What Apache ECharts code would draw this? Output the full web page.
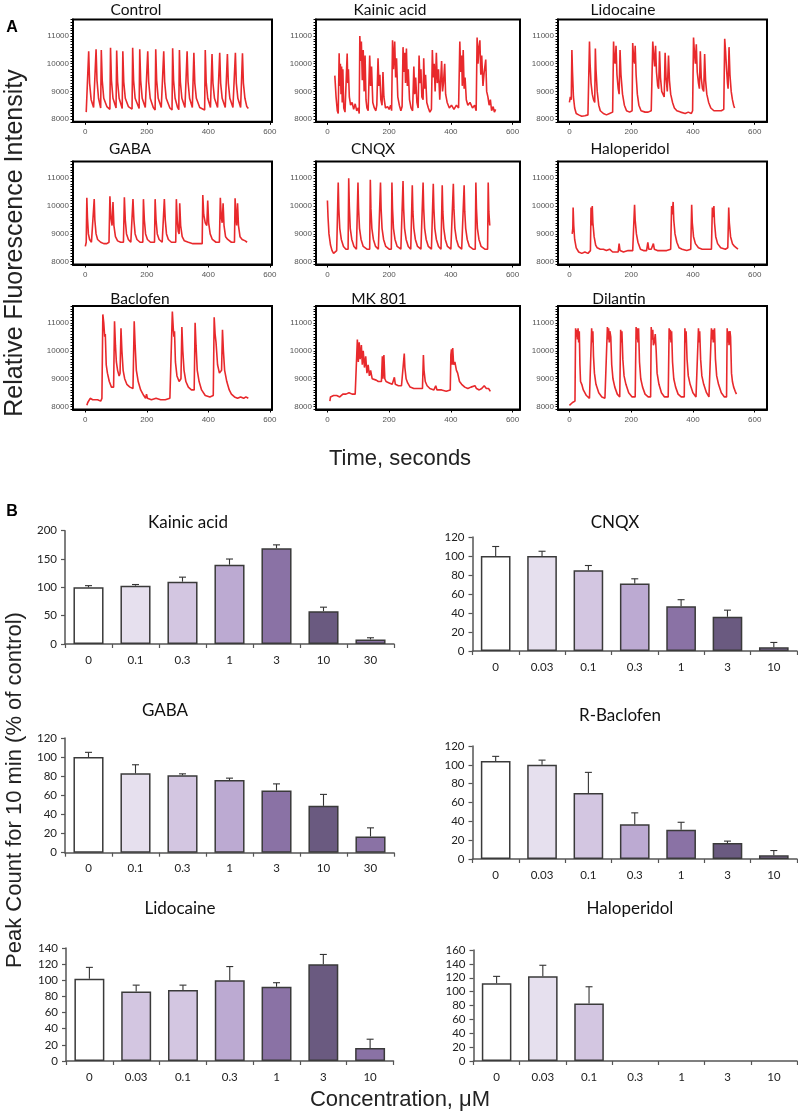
<!DOCTYPE html>
<html><head><meta charset="utf-8">
<script src="https://cdn.jsdelivr.net/npm/echarts@6/dist/echarts.min.js"></script>
<style>html,body{margin:0;padding:0;background:#fff}#c{width:798px;height:1118px}</style>
</head><body><div id="c"></div><script>
// ---------- Panel A: fluorescence traces ----------
const traceTimeTicks = [0, 200, 400, 600];
const traceIntensityTicks = [8000, 9000, 10000, 11000];
const traceTitles = ['Control','Kainic acid','Lidocaine','GABA','CNQX','Haloperidol','Baclofen','MK 801','Dilantin'];

const controlTrace = [[3,8250],[8,8300],[11,10450],[14,9300],[19,8700],[27,8420],[33,8380],
[35,10520],[38,9400],[43,8750],[50,8400],[52,10500],[55,9400],[60,8750],[70,8450],[80,8350],
[82,10580],[85,9400],[90,8750],[100,8400],[102,10480],[105,9350],[110,8750],[120,8380],
[122,10450],[125,9350],[130,8750],[140,8450],[152,8360],[154,10580],[157,9400],[162,8750],[175,8380],
[177,10520],[180,9400],[185,8750],[195,8420],[201,8350],[203,10450],[206,9350],[211,8750],[221,8420],[227,8330],
[229,10520],[232,9400],[237,8750],[247,8420],[253,8350],[255,10450],[258,9350],[263,8750],[275,8400],[282,8330],
[284,10560],[287,9400],[292,8750],[300,8420],[304,8340],[306,10500],[309,9350],[314,8750],[324,8420],[329,8360],
[331,10450],[334,9350],[339,8750],[348,8420],[351,8350],[353,10400],[356,9300],[361,8750],[372,8420],[388,8330],
[390,10500],[393,9350],[398,8750],[407,8420],[410,8360],[412,10350],[415,9300],[420,8750],[430,8420],[435,8360],
[437,10400],[440,9300],[445,8750],[455,8420],[460,8350],[462,10350],[465,9300],[470,8750],[480,8420],[486,8360],
[488,10400],[491,9300],[496,8750],[505,8420],[509,8360],[511,10380],[514,9300],[519,8750],[525,8450],[530,8380]];

const kainicTrace = [[24,9570],[28,8800],[32,8300],[35,8200],
[38,10380],[40,9200],[42,10000],[44,8900],[46,9900],[48,8600],[50,9800],[53,8400],[57,8250],[62,8300],
[64,10370],[66,9300],[68,9800],[71,8800],[75,8500],[80,8600],[85,8350],[90,8550],[95,8300],[100,8400],[103,8200],
[105,11000],[108,10100],[110,10800],[113,9400],[116,10500],[119,9000],[122,10300],[125,8700],[128,8400],[132,8300],
[137,10300],[140,9200],[143,9900],[147,8600],[152,8400],[157,8300],[160,8500],
[164,10200],[167,9200],[170,9600],[173,8700],[177,8500],[180,9700],[183,8800],[188,8400],[195,8450],[200,8350],[205,8500],[208,8300],
[211,10850],[214,9800],[218,10800],[221,9500],[224,10200],[228,8800],[233,8500],[238,8300],[242,8450],
[245,10600],[248,9700],[251,10400],[253,9300],[256,10550],[259,9200],[262,9800],[266,8700],[271,8400],[276,8300],
[280,9900],[283,8900],[286,9500],[290,8600],[294,8400],[297,10300],[300,9300],[303,9800],[306,8800],[310,8700],
[312,10200],[315,9100],[318,9600],[322,8600],[327,8400],[332,8250],[337,8350],
[340,10500],[343,9500],[346,10000],[349,9000],[353,10400],[356,9300],[360,9800],[364,8700],
[370,10100],[373,9000],[376,9300],[380,10000],[383,8900],[388,8600],[395,8400],[402,8500],[410,8350],[418,8500],[425,8400],
[429,10800],[432,9700],[435,10300],[437,9200],[440,10500],[443,9100],[446,9500],[450,8700],[455,8500],[462,8600],[470,8400],[477,8500],[482,8300],
[485,10950],[488,10000],[491,10600],[494,10850],[497,9600],[500,10300],[504,9200],[508,9700],
[513,10150],[516,9000],[520,8800],[524,8500],[528,8700],[532,8300],[537,8450],[541,8250],[545,8350]];

const lidocaineTrace = [[0,8600],[3,8800],[6,8700],[8,10500],[10,9700],[13,8800],[17,8400],[22,8200],[30,8150],[40,8100],[50,8120],[60,8150],[63,8200],
[65,10800],[67,10000],[70,9300],[74,8900],[78,8700],[82,8600],[84,10550],[86,9800],[90,9000],[95,8500],[100,8300],[110,8200],[120,8150],[130,8200],[140,8250],
[143,10800],[145,10200],[148,10000],[151,10650],[154,9600],[158,9100],[161,8900],[164,10500],[167,9600],[172,8900],[178,8500],[185,8300],[195,8250],[203,8300],
[205,10750],[208,10200],[211,10000],[213,10650],[216,9600],[220,8900],[225,8500],[232,8300],[245,8250],[255,8250],[265,8300],[268,8350],
[270,10800],[273,10300],[276,9900],[279,10650],[282,9700],[286,9200],[289,9100],[292,10450],[295,9500],[299,9000],[303,9000],[307,8800],[310,10400],[313,9500],[317,9000],[321,10300],[324,9400],[328,8900],[334,8600],[340,8400],[348,8300],[360,8250],[375,8200],[385,8250],[395,8200],[399,8300],
[402,10950],[405,10400],[408,10000],[411,10700],[414,9700],[418,9300],[421,9100],[424,10450],[427,9500],[431,9100],[435,9000],[438,10350],[441,9400],[445,8900],[451,8600],[458,8400],[468,8300],[480,8300],[492,8300],[500,8350],
[503,10900],[506,10400],[509,9800],[512,9300],[514,9100],[517,10600],[520,9600],[524,9000],[528,8700],[532,8500],[535,8400]];

const gabaTrace = [[0,8550],[3,8700],[5,10300],[7,9600],[10,9000],[14,8800],[20,8700],[26,8700],
[29,10250],[31,9500],[35,9000],[40,8800],[50,8700],[60,8650],[70,8650],[77,8700],
[80,10350],[83,9600],[87,9300],[90,10150],[93,9300],[98,8900],[105,8750],[115,8700],[124,8700],
[127,10320],[130,9500],[134,9000],[140,8800],[148,8700],[153,8700],[155,10250],[158,9500],[162,9000],[168,8800],[178,8700],[187,8700],
[189,10250],[192,9500],[196,9000],[202,8800],[212,8700],[225,8700],[227,10250],[230,9500],[234,9000],[240,8800],[250,8700],[255,8700],
[257,10250],[260,9500],[264,9000],[270,8800],[280,8700],[294,8700],
[296,10250],[299,9500],[302,9100],[305,9000],[307,10100],[310,9300],[315,8900],[322,8750],[335,8700],[350,8650],[365,8650],[380,8650],
[382,10400],[385,9700],[390,9400],[395,9300],[398,10200],[401,9400],[406,9000],[413,8800],[425,8700],[436,8700],
[439,10300],[442,9600],[445,9400],[448,10100],[451,9300],[456,8900],[463,8800],[475,8700],[485,8700],
[487,10280],[490,9600],[492,9300],[495,10100],[498,9300],[503,8900],[510,8800],[520,8750],[526,8700]];

const cnqxTrace = [[0,10200],[2,9600],[5,9000],[10,8600],[15,8400],[20,8300],[25,8350],[30,8400],[33,8450],
[35,10850],[37,9900],[40,9200],[45,8800],[52,8550],[60,8450],[67,8450],
[69,11000],[71,10000],[74,9200],[79,8800],[86,8550],[94,8450],[97,8450],
[99,10850],[101,9900],[104,9200],[109,8800],[116,8550],[128,8450],[137,8450],
[139,10950],[141,9900],[144,9200],[149,8800],[156,8550],[165,8450],[170,8450],
[172,10850],[174,9900],[177,9200],[182,8800],[189,8550],[200,8450],[207,8450],
[209,10850],[211,9900],[214,9200],[219,8800],[226,8550],[238,8450],[243,8450],
[245,10900],[247,9900],[250,9200],[255,8800],[262,8550],[270,8450],[273,8450],
[275,10750],[277,9800],[280,9200],[285,8800],[292,8550],[303,8450],[308,8450],
[310,10850],[312,9900],[315,9200],[320,8800],[327,8550],[337,8450],[341,8450],
[343,10800],[345,9900],[348,9200],[353,8800],[360,8550],[368,8450],[370,8450],
[372,10750],[374,9800],[377,9200],[382,8800],[389,8550],[400,8450],[406,8450],
[408,10800],[410,9900],[413,9200],[418,8800],[425,8550],[435,8450],[441,8450],
[443,10750],[445,9800],[448,9200],[453,8800],[460,8550],[472,8450],[479,8450],
[481,10850],[483,9900],[486,9200],[491,8800],[498,8550],[510,8450],[519,8450],
[521,10850],[523,9800],[526,9300]];

const haloperidolTrace = [[9,9000],[11,9200],[12,9950],[14,9300],[17,8800],[22,8500],[30,8350],[40,8300],[50,8350],[60,8300],[68,8400],
[70,9950],[72,9300],[74,10000],[76,9400],[80,8900],[85,8600],[90,8500],[95,8550],[100,8450],[110,8450],[120,8400],[130,8450],[140,8350],[150,8350],[158,8350],
[161,8650],[164,8400],[175,8350],[190,8400],[205,8400],[209,8450],
[211,10050],[213,9500],[217,9000],[222,8700],[230,8450],[240,8400],[250,8400],
[254,8700],[257,8450],[265,8450],[269,8500],[272,8650],[275,8450],[285,8400],[300,8400],[315,8400],[328,8450],
[331,10000],[333,9700],[336,10150],[338,9500],[342,9000],[348,8700],[355,8500],[365,8450],[380,8400],[393,8450],
[396,10050],[398,9400],[402,8900],[408,8650],[418,8500],[430,8450],[445,8450],[460,8450],
[463,9950],[465,9600],[468,10000],[470,9400],[474,8900],[480,8650],[490,8500],[505,8450],[513,8500],
[516,9950],[518,9400],[522,8900],[528,8650],[535,8550],[540,8500],[546,8450]];

const baclofenTrace = [[5,8050],[8,8150],[12,8200],[16,8300],[21,8350],[24,8250],[30,8200],[40,8250],[50,8200],[54,8300],
[57,11300],[60,11000],[63,10500],[65,10600],[68,9500],[72,9200],[78,8900],[85,8700],[92,8700],
[95,11050],[98,10200],[101,9600],[105,9300],[110,9100],[113,9200],[116,10800],[119,10000],[123,9300],[128,9000],[135,8800],[145,8700],[155,8650],
[159,11050],[162,10200],[166,9300],[172,8900],[180,8600],[190,8400],[196,8300],[199,8450],[202,8300],[215,8250],[230,8300],[245,8250],[260,8250],[275,8300],
[283,11400],[286,10800],[288,10500],[290,10700],[293,9600],[298,9100],[305,8900],[311,9000],
[314,10850],[317,10000],[321,9300],[327,8900],[335,8700],[345,8600],[354,8600],
[357,11000],[360,10200],[364,9300],[370,8900],[378,8600],[390,8400],[405,8350],[416,8400],
[419,11200],[422,10600],[425,10300],[430,9500],[436,9200],[443,9300],
[446,10750],[449,10000],[453,9300],[460,8900],[468,8600],[475,8450],[480,8500],[485,8350],[495,8300],[505,8350],[515,8300],[522,8350],[530,8300]];

const mk801Trace = [[8,8200],[10,8350],[14,8300],[20,8400],[30,8400],[40,8350],[50,8450],[60,8450],[70,8500],[80,8450],[90,8450],[95,8500],
[97,10400],[100,9600],[103,10300],[106,9700],[110,10200],[113,9500],[116,10000],[120,9400],[124,9800],[128,9200],[132,9500],[136,9100],[140,9300],[145,9000],[150,9050],[158,8950],[165,8900],[175,8900],
[178,9800],[180,9000],[183,9850],[186,9000],[190,8900],[200,8850],[210,8800],[214,8850],[217,9050],[220,8800],[230,8750],[240,8750],[246,8750],
[249,9900],[251,9400],[255,9000],[260,8850],[268,8700],[280,8650],[295,8650],[308,8650],
[311,9850],[313,9300],[317,8900],[323,8750],[332,8650],[345,8600],[351,8750],[355,8600],[370,8600],[385,8550],[398,8600],
[400,9850],[402,10050],[404,9500],[406,10100],[409,9500],[413,9600],[418,9300],[422,9200],[428,8900],[435,8800],[445,8700],[455,8650],[465,8700],[470,8650],[478,8750],[483,8650],[492,8600],[500,8650],[508,8750],[515,8650],[522,8650],[528,8550]];

const dilantinTrace = [[0,8050],[5,8100],[10,8150],[15,8100],[18,8200],
[20,10800],[22,10500],[24,10750],[26,10400],[28,10800],[30,10300],[32,10700],[34,9500],[36,8900],[40,8800],[45,8600],[55,8400],[65,8300],[70,8350],
[72,10800],[74,10300],[76,10700],[78,9800],[81,9200],[86,8800],[95,8500],[105,8350],[115,8300],[121,8350],
[123,10850],[125,10400],[127,10800],[129,10300],[131,10700],[134,10500],[137,9500],[141,9000],[147,8700],[155,8450],[163,8350],
[166,10750],[168,10300],[170,10700],[173,9700],[177,9100],[183,8800],[192,8500],[203,8350],[213,8350],
[216,10850],[218,10400],[220,10800],[222,10300],[224,10800],[227,9600],[231,9000],[237,8700],[245,8450],[255,8350],[263,8350],
[265,10850],[267,10400],[270,10750],[272,10200],[275,10300],[278,10600],[281,10000],[284,9200],[290,8800],[298,8500],[308,8350],[320,8350],
[323,10800],[325,10400],[327,10750],[329,10300],[331,10700],[334,9600],[338,9000],[344,8700],[352,8450],[362,8350],[372,8350],
[374,10800],[376,10300],[378,10700],[381,9700],[385,9100],[391,8800],[400,8500],[410,8350],[416,8350],
[418,10800],[420,10300],[422,10700],[425,9700],[429,9100],[435,8800],[444,8500],[452,8350],[458,8350],
[460,10800],[462,10400],[464,10750],[466,10300],[468,10600],[470,10800],[473,9700],[477,9100],[483,8800],[492,8500],[502,8350],[509,8350],
[511,10800],[513,10300],[515,10700],[517,10200],[520,10700],[522,10500],[525,9200],[528,8900],[532,8700],[537,8550],[541,8450]];

const traces = [controlTrace, kainicTrace, lidocaineTrace, gabaTrace, cnqxTrace, haloperidolTrace, baclofenTrace, mk801Trace, dilantinTrace];

// ---------- Panel B: peak counts (% of control) ----------
const kainicDoses = ['0','0.1','0.3','1','3','10','30'];
const kainicMeans = [100, 103, 110, 140, 169, 58, 8];
const kainicErrs  = [3, 2, 8, 10, 6, 7, 3];
const cnqxDoses = ['0','0.03','0.1','0.3','1','3','10'];
const cnqxMeans = [100, 100, 85, 71, 47, 36, 4];
const cnqxErrs  = [10, 5, 5, 5, 7, 7, 5];
const gabaDoses = ['0','0.1','0.3','1','3','10','30'];
const gabaMeans = [100, 83, 81, 76, 65, 49, 17];
const gabaErrs  = [5, 9, 1.5, 2, 7, 12, 9];
const baclofenDoses = ['0','0.03','0.1','0.3','1','3','10'];
const baclofenMeans = [104, 100, 70, 37, 31, 17, 4];
const baclofenErrs  = [5, 5, 22, 12, 8, 2, 5];
const lidocaineDoses = ['0','0.03','0.1','0.3','1','3','10'];
const lidocaineMeans = [102, 86, 88, 100, 92, 120, 16];
const lidocaineErrs  = [14, 8, 6, 17, 5, 12, 11];
const haloDoses = ['0','0.03','0.1','0.3','1','3','10'];
const haloMeans = [112, 122, 83, 0, 0, 0, 0];
const haloErrs  = [10, 16, 24, 0, 0, 0, 0];

// styles (kept separate from data)
const shade = ['#ffffff', '#e6e0ee', '#d3c6e1', '#bcaad2', '#8a72a5', '#6a5a80'];
const kainicColors = [0,1,2,3,4,5,4];
const sevenColors = [0,1,2,3,4,5,4];
const lidoColors = [0,2,2,3,4,5,4];

const chart = echarts.init(document.getElementById('c'), null, {renderer: 'canvas'});

const grids = [], xAxes = [], yAxes = [], series = [], graphics = [];
const cols = [{left:73, right:272, min:-40, max:607}, {left:316, right:520, min:-37, max:624}, {left:558, right:767, min:-37, max:640}];
const rows = [{top:19.5, height:102.3}, {top:161.6, height:102.9}, {top:306, height:103.5}];
const titleCenters = [[136,10],[390,10],[623,10],[130,149],[373,149],[630,149],[140,299],[379,299],[619,299]];
const plain = v => String(v);

traces.forEach((tr, i) => {
  const c = cols[i % 3], r = rows[Math.floor(i / 3)];
  const gi = grids.length;
  grids.push({left: c.left, top: r.top, width: c.right - c.left, height: r.height,
    show: true, borderColor: '#000', borderWidth: 2, backgroundColor: 'transparent'});
  xAxes.push({type: 'value', gridIndex: gi, min: c.min, max: c.max,
    axisLine: {show: true, onZero: false, lineStyle: {color: '#000', width: 2}},
    axisTick: {show: true, length: 3, customValues: traceTimeTicks, lineStyle: {color: '#000'}},
    axisLabel: {customValues: traceTimeTicks, formatter: plain, fontSize: 8, color: '#555', margin: 6, fontFamily: 'Liberation Sans'},
    splitLine: {show: false}});
  yAxes.push({type: 'value', gridIndex: gi, min: 7900, max: 11600, interval: 100,
    axisLine: {show: true, onZero: false, lineStyle: {color: '#000', width: 2}},
    axisTick: {show: true, length: 2.5, lineStyle: {color: '#000', width: 1}},
    axisLabel: {customValues: traceIntensityTicks, formatter: plain, fontSize: 8, color: '#555', margin: 4, fontFamily: 'Liberation Sans'},
    splitLine: {show: false}});
  series.push({type: 'line', xAxisIndex: gi, yAxisIndex: gi, data: tr, showSymbol: false, symbol: 'none',
    lineStyle: {color: '#e8292c', width: 1.6}, animation: false});
  graphics.push({type: 'text', x: titleCenters[i][0], y: titleCenters[i][1],
    style: {text: traceTitles[i], fill: '#111', font: '15.5px Lato', textAlign: 'center', textVerticalAlign: 'middle'}});
});

const barPanels = [
  {title: 'Kainic acid', tx: 188, ty: 523, left: 65, right: 394, top: 530.7, bottom: 644, max: 200, interval: 50, cats: kainicDoses, means: kainicMeans, errs: kainicErrs, colors: kainicColors},
  {title: 'CNQX', tx: 615, ty: 523, left: 472.5, right: 797, top: 537, bottom: 651, max: 120, interval: 20, cats: cnqxDoses, means: cnqxMeans, errs: cnqxErrs, colors: sevenColors},
  {title: 'GABA', tx: 165, ty: 711, left: 65, right: 394, top: 738, bottom: 852.7, max: 120, interval: 20, cats: gabaDoses, means: gabaMeans, errs: gabaErrs, colors: sevenColors},
  {title: 'R-Baclofen', tx: 620, ty: 716, left: 472.5, right: 797, top: 746, bottom: 859, max: 120, interval: 20, cats: baclofenDoses, means: baclofenMeans, errs: baclofenErrs, colors: sevenColors},
  {title: 'Lidocaine', tx: 180, ty: 909, left: 66, right: 393.5, top: 948, bottom: 1061, max: 140, interval: 20, cats: lidocaineDoses, means: lidocaineMeans, errs: lidocaineErrs, colors: lidoColors},
  {title: 'Haloperidol', tx: 630, ty: 909, left: 473.5, right: 797, top: 950, bottom: 1061, max: 160, interval: 20, cats: haloDoses, means: haloMeans, errs: haloErrs, colors: sevenColors}
];

barPanels.forEach(p => {
  const gi = grids.length;
  grids.push({left: p.left, top: p.top, width: p.right - p.left, height: p.bottom - p.top});
  xAxes.push({type: 'category', gridIndex: gi, data: p.cats,
    axisLine: {show: true, lineStyle: {color: '#555', width: 1.5}},
    axisTick: {show: true, length: 4, alignWithLabel: false, lineStyle: {color: '#555', width: 1.2}},
    axisLabel: {fontSize: 11.5, color: '#222', margin: 10, fontFamily: 'Lato'}});
  yAxes.push({type: 'value', gridIndex: gi, min: 0, max: p.max, interval: p.interval,
    axisLine: {show: true, lineStyle: {color: '#555', width: 1.5}},
    axisTick: {show: true, length: 4, lineStyle: {color: '#555', width: 1.2}},
    axisLabel: {fontSize: 11.5, color: '#222', margin: 8, fontFamily: 'Lato'},
    splitLine: {show: false}});
  series.push({type: 'bar', xAxisIndex: gi, yAxisIndex: gi, barWidth: '64%', animation: false,
    data: p.means.map((m, k) => ({value: m, itemStyle: {color: shade[p.colors[k]], borderColor: '#3a3a3a', borderWidth: m > 0 ? 1.5 : 0}}))});
  series.push({type: 'custom', xAxisIndex: gi, yAxisIndex: gi, animation: false, z: 5,
    data: p.means.map((m, k) => [k, m, p.errs[k]]).filter(d => d[2] > 0),
    renderItem: (params, api) => {
      const base = api.coord([api.value(0), api.value(1)]);
      const top = api.coord([api.value(0), api.value(1) + api.value(2)]);
      const st = {stroke: '#333', lineWidth: 1.1};
      return {type: 'group', children: [
        {type: 'line', shape: {x1: base[0], y1: base[1], x2: base[0], y2: top[1]}, style: st},
        {type: 'line', shape: {x1: base[0] - 3.5, y1: top[1], x2: base[0] + 3.5, y2: top[1]}, style: st}
      ]};
    }});
  graphics.push({type: 'text', x: p.tx, y: p.ty,
    style: {text: p.title, fill: '#111', font: '17px Lato', textAlign: 'center', textVerticalAlign: 'middle'}});
});

graphics.push(
  {type: 'text', x: 12, y: 28, style: {text: 'A', fill: '#000', font: 'bold 16px Liberation Sans', textAlign: 'center', textVerticalAlign: 'middle'}},
  {type: 'text', x: 12, y: 512, style: {text: 'B', fill: '#000', font: 'bold 16px Liberation Sans', textAlign: 'center', textVerticalAlign: 'middle'}},
  {type: 'text', x: 15, y: 243, rotation: Math.PI / 2, style: {text: 'Relative Fluorescence Intensity', fill: '#222', font: '25px Liberation Sans', textAlign: 'center', textVerticalAlign: 'middle'}},
  {type: 'text', x: 400, y: 459, style: {text: 'Time, seconds', fill: '#222', font: '22px Liberation Sans', textAlign: 'center', textVerticalAlign: 'middle'}},
  {type: 'text', x: 15, y: 790, rotation: Math.PI / 2, style: {text: 'Peak Count for 10 min (% of control)', fill: '#222', font: '22px Liberation Sans', textAlign: 'center', textVerticalAlign: 'middle'}},
  {type: 'text', x: 400, y: 1100, style: {text: 'Concentration, \u03bcM', fill: '#222', font: '22px Liberation Sans', textAlign: 'center', textVerticalAlign: 'middle'}}
);

chart.setOption({animation: false, backgroundColor: '#fff', grid: grids, xAxis: xAxes, yAxis: yAxes, series: series, graphic: graphics});
</script></body></html>
